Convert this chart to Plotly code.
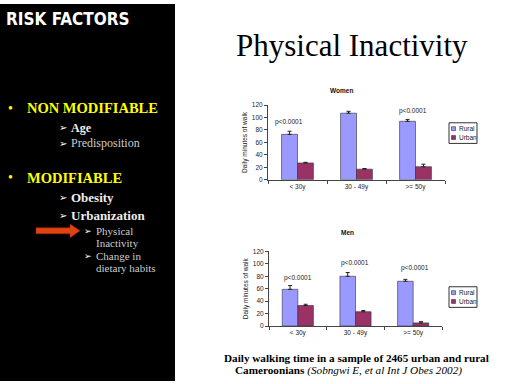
import plotly.graph_objects as go

W, H = 512, 384
def X(px): return px / W
def Y(py): return 1 - py / H

categories = ["< 30y", "30 - 49y", ">= 50y"]
series_names = ["Rural", "Urban"]

women_rural = [73, 107, 94]
women_urban = [27, 17, 21]
women_rural_err = [5, 3, 3]
women_urban_err = [1, 1, 4]
women_p = ["p<0.0001", "p<0.0001", "p<0.0001"]
women_p_y = [93, 126, 110]

men_rural = [59, 80, 72]
men_urban = [33, 23, 5]
men_rural_err = [6, 6, 3]
men_urban_err = [2, 2, 2]
men_p = ["p<0.0001", "p<0.0001", "p<0.0001"]
men_p_y = [77, 101, 93]

y_ticks = [0, 20, 40, 60, 80, 100, 120]

RURAL = "#9999FF"
URBAN = "#993366"
CF = "Liberation Sans, Arial, sans-serif"
SF = "Liberation Serif, Times New Roman, serif"

fig = go.Figure()

def add_bars(rv, uv, re, ue, xa, ya):
    for name, vals, errs, col in [(series_names[0], rv, re, RURAL), (series_names[1], uv, ue, URBAN)]:
        fig.add_trace(go.Bar(
            x=categories, y=vals, name=name, xaxis=xa, yaxis=ya,
            marker=dict(color=col, line=dict(color="#333333", width=0.6)),
            error_y=dict(type="data", array=errs, arrayminus=[0]*len(errs), symmetric=False,
                         color="#222222", thickness=1, width=2),
            showlegend=False,
        ))

add_bars(women_rural, women_urban, women_rural_err, women_urban_err, "x", "y")
add_bars(men_rural, men_urban, men_rural_err, men_urban_err, "x2", "y2")

axis_common = dict(showgrid=False, zeroline=False, showline=True, linecolor="#444444", linewidth=1,
                   ticks="outside", ticklen=3, tickcolor="#444444",
                   tickfont=dict(family=CF, size=6.5, color="#222222"))

fig.update_layout(
    width=W, height=H, margin=dict(l=0, r=0, t=0, b=0),
    paper_bgcolor="white", plot_bgcolor="white",
    barmode="group", bargap=0.46, bargroupgap=0,
    showlegend=False,
    xaxis=dict(domain=[X(268), X(445)], anchor="y", tickson="boundaries", **axis_common),
    yaxis=dict(domain=[Y(179), Y(103)], anchor="x", range=[0, 120], tickvals=y_ticks,
               title=dict(text="Daily minutes of walk", font=dict(family=CF, size=6.5, color="#222222"), standoff=3),
               **axis_common),
    xaxis2=dict(domain=[X(269), X(442)], anchor="y2", tickson="boundaries", **axis_common),
    yaxis2=dict(domain=[Y(328), Y(252)], anchor="x2", range=[0, 120], tickvals=y_ticks,
                title=dict(text="Daily minutes of walk", font=dict(family=CF, size=6.5, color="#222222"), standoff=3),
                **axis_common),
)

ann = []
shapes = []

# p-value labels
for xr, yr, labels, ys, shifts in [("x", "y", women_p, women_p_y, [-9, -4, -3]), ("x2", "y2", men_p, men_p_y, [0, -1, 2])]:
    for c, t, yy, s in zip(categories, labels, ys, shifts):
        ann.append(dict(x=c, y=yy, xref=xr, yref=yr, text=t, showarrow=False, xshift=s,
                        font=dict(family=CF, size=6.5, color="#222222")))

# chart titles
ann.append(dict(x=X(355), y=Y(82), xref="paper", yref="paper", text="<b>Women</b>", showarrow=False,
                font=dict(family=CF, size=6.5, color="#111111")))
ann.append(dict(x=X(356), y=Y(233), xref="paper", yref="paper", text="<b>Men</b>", showarrow=False,
                font=dict(family=CF, size=6.5, color="#111111")))

# legends (drawn boxes)
for top in [121, 288]:
    shapes.append(dict(type="rect", xref="paper", yref="paper", x0=X(449), x1=X(477), y0=Y(top), y1=Y(top + 21),
                       line=dict(color="#333333", width=1), fillcolor="white"))
    for i, (nm, col) in enumerate(zip(series_names, [RURAL, URBAN])):
        cy = top + 6 + i * 9
        shapes.append(dict(type="rect", xref="paper", yref="paper", x0=X(451.5), x1=X(455.5), y0=Y(cy - 2), y1=Y(cy + 2),
                           line=dict(color="#333333", width=0.6), fillcolor=col))
        ann.append(dict(x=X(457), y=Y(cy), xref="paper", yref="paper", text=nm, showarrow=False,
                        xanchor="left", yanchor="middle", font=dict(family=CF, size=6.5, color="#222222")))

# left black panel
shapes.append(dict(type="rect", xref="paper", yref="paper", x0=0, x1=X(175), y0=0, y1=1,
                   line=dict(width=0), fillcolor="black", layer="below"))

ann.append(dict(x=X(4), y=Y(15), xref="paper", yref="paper", text="<b>RISK FACTORS</b>", showarrow=False,
                xanchor="left", yanchor="middle",
                font=dict(family="Liberation Sans Narrow, DejaVu Sans Condensed, sans-serif", size=17, color="white")))

def left_text(x, y, text, size, color, bold=False):
    t = f"<b>{text}</b>" if bold else text
    ann.append(dict(x=X(x), y=Y(y), xref="paper", yref="paper", text=t, showarrow=False,
                    xanchor="left", yanchor="middle", font=dict(family=SF, size=size, color=color)))

YEL = "#FFFF00"
ARW = "DejaVu Sans, sans-serif"
def arrow_glyph(x, y, size):
    ann.append(dict(x=X(x), y=Y(y), xref="paper", yref="paper", text="➢", showarrow=False,
                    xanchor="left", yanchor="middle", font=dict(family=ARW, size=size, color="white")))

left_text(6, 106, "•", 14, YEL)
left_text(25, 106, "NON MODIFIABLE", 14.5, YEL, True)
arrow_glyph(57, 126, 10)
left_text(69, 126, "Age", 12, "#EEEEEE", True)
arrow_glyph(57, 142, 10)
left_text(69, 142, "Predisposition", 12, "#CCCCCC")
left_text(6, 177, "•", 14, YEL)
left_text(25, 177, "MODIFIABLE", 14.5, YEL, True)
arrow_glyph(57, 197, 10)
left_text(69, 197, "Obesity", 13, "#EEEEEE", True)
arrow_glyph(57, 215, 10)
left_text(69, 215, "Urbanization", 13, "#EEEEEE", True)
arrow_glyph(82, 231, 9)
left_text(94, 231, "Physical", 11, "#CCCCCC")
left_text(94, 243, "Inactivity", 11, "#CCCCCC")
arrow_glyph(82, 257, 9)
left_text(94, 257, "Change in", 11, "#CCCCCC")
left_text(94, 269, "dietary habits", 11, "#CCCCCC")

# red arrow
pts = [(36, 228), (70, 228), (70, 224), (80, 231), (70, 238), (70, 234), (36, 234)]
path = "M " + " L ".join(f"{X(a):.5f},{Y(b):.5f}" for a, b in pts) + " Z"
shapes.append(dict(type="path", xref="paper", yref="paper", path=path, fillcolor="#DD4411",
                   line=dict(color="#AA2200", width=0.5)))

# main title
ann.append(dict(x=X(352), y=Y(42), xref="paper", yref="paper", text="Physical Inactivity", showarrow=False,
                xanchor="center", yanchor="middle", font=dict(family=SF, size=31, color="black")))

# caption
ann.append(dict(x=X(356), y=Y(361), xref="paper", yref="paper",
                text="<b>Daily walking time in a sample of 2465 urban and rural</b>", showarrow=False,
                xanchor="center", yanchor="middle", font=dict(family=SF, size=11.2, color="black")))
ann.append(dict(x=X(348), y=Y(373), xref="paper", yref="paper",
                text="<b>Cameroonians</b> <i>(Sobngwi E, et al Int J Obes 2002)</i>", showarrow=False,
                xanchor="center", yanchor="middle", font=dict(family=SF, size=11.2, color="black")))

fig.update_layout(annotations=ann, shapes=shapes)
fig.write_html("out.html", config={"displayModeBar": False},
               post_script="document.body.style.margin='0';document.body.style.padding='0';")
